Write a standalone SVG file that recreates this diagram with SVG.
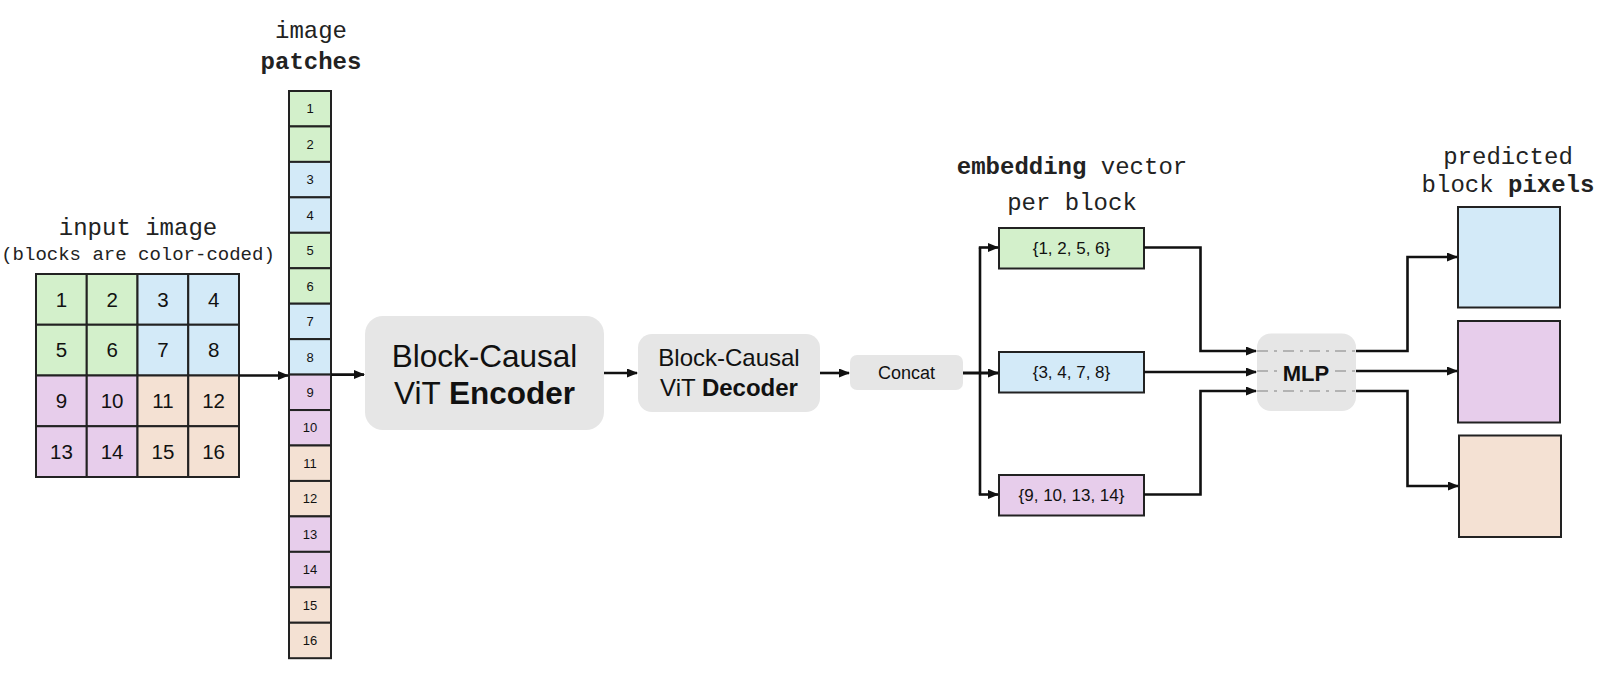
<svg xmlns="http://www.w3.org/2000/svg" width="1613" height="680" viewBox="0 0 1613 680">
<defs>
<marker id="ah" markerUnits="userSpaceOnUse" markerWidth="11" markerHeight="10" refX="10" refY="4.5" orient="auto">
<path d="M0,0 L11,4.5 L0,9 z" fill="#111"/>
</marker>
<style>
.g{fill:#d3f0cb}.b{fill:#d3eaf8}.p{fill:#e7cdeb}.o{fill:#f4e1d3}
.cell{stroke:#222;stroke-width:2}
.num{font-family:"Liberation Sans",Arial,sans-serif;font-size:20.5px;fill:#111;text-anchor:middle}
.pn{font-family:"Liberation Sans",Arial,sans-serif;font-size:13px;fill:#111;text-anchor:middle}
.mono{font-family:"Liberation Mono","Courier New",monospace;font-size:24px;fill:#222;text-anchor:middle}
.sans{font-family:"Liberation Sans",Arial,sans-serif;fill:#111;text-anchor:middle}
.box{fill:#e6e6e6}
.conn{fill:none;stroke:#111;stroke-width:2.6}
.dd{stroke:#b3b3b3;stroke-width:2;stroke-dasharray:11 6 3 6;fill:none}
</style>
</defs>

<g id="input-image">
<text class="mono" x="138" y="235">input image</text>
<text class="mono" x="138" y="260" style="font-size:19px">(blocks are color-coded)</text>
<rect class="cell g" x="36" y="274" width="50.75" height="50.75"/>
<rect class="cell g" x="86.75" y="274" width="50.75" height="50.75"/>
<rect class="cell b" x="137.5" y="274" width="50.75" height="50.75"/>
<rect class="cell b" x="188.25" y="274" width="50.75" height="50.75"/>
<rect class="cell g" x="36" y="324.75" width="50.75" height="50.75"/>
<rect class="cell g" x="86.75" y="324.75" width="50.75" height="50.75"/>
<rect class="cell b" x="137.5" y="324.75" width="50.75" height="50.75"/>
<rect class="cell b" x="188.25" y="324.75" width="50.75" height="50.75"/>
<rect class="cell p" x="36" y="375.5" width="50.75" height="50.75"/>
<rect class="cell p" x="86.75" y="375.5" width="50.75" height="50.75"/>
<rect class="cell o" x="137.5" y="375.5" width="50.75" height="50.75"/>
<rect class="cell o" x="188.25" y="375.5" width="50.75" height="50.75"/>
<rect class="cell p" x="36" y="426.25" width="50.75" height="50.75"/>
<rect class="cell p" x="86.75" y="426.25" width="50.75" height="50.75"/>
<rect class="cell o" x="137.5" y="426.25" width="50.75" height="50.75"/>
<rect class="cell o" x="188.25" y="426.25" width="50.75" height="50.75"/>
<text class="num" x="61.4" y="306.5">1</text>
<text class="num" x="112.1" y="306.5">2</text>
<text class="num" x="162.9" y="306.5">3</text>
<text class="num" x="213.6" y="306.5">4</text>
<text class="num" x="61.4" y="357.2">5</text>
<text class="num" x="112.1" y="357.2">6</text>
<text class="num" x="162.9" y="357.2">7</text>
<text class="num" x="213.6" y="357.2">8</text>
<text class="num" x="61.4" y="408">9</text>
<text class="num" x="112.1" y="408">10</text>
<text class="num" x="162.9" y="408">11</text>
<text class="num" x="213.6" y="408">12</text>
<text class="num" x="61.4" y="458.7">13</text>
<text class="num" x="112.1" y="458.7">14</text>
<text class="num" x="162.9" y="458.7">15</text>
<text class="num" x="213.6" y="458.7">16</text>
</g>

<g id="image-patches">
<text class="mono" x="311" y="38">image</text>
<text class="mono" x="311" y="69" font-weight="bold">patches</text>
<rect class="cell g" x="289" y="91" width="42" height="35.45"/>
<rect class="cell g" x="289" y="126.45" width="42" height="35.45"/>
<rect class="cell b" x="289" y="161.9" width="42" height="35.45"/>
<rect class="cell b" x="289" y="197.35" width="42" height="35.45"/>
<rect class="cell g" x="289" y="232.8" width="42" height="35.45"/>
<rect class="cell g" x="289" y="268.25" width="42" height="35.45"/>
<rect class="cell b" x="289" y="303.7" width="42" height="35.45"/>
<rect class="cell b" x="289" y="339.15" width="42" height="35.45"/>
<rect class="cell p" x="289" y="374.6" width="42" height="35.45"/>
<rect class="cell p" x="289" y="410.05" width="42" height="35.45"/>
<rect class="cell o" x="289" y="445.5" width="42" height="35.45"/>
<rect class="cell o" x="289" y="480.95" width="42" height="35.45"/>
<rect class="cell p" x="289" y="516.4" width="42" height="35.45"/>
<rect class="cell p" x="289" y="551.85" width="42" height="35.45"/>
<rect class="cell o" x="289" y="587.3" width="42" height="35.45"/>
<rect class="cell o" x="289" y="622.75" width="42" height="35.45"/>
<text class="pn" x="310" y="113.4">1</text>
<text class="pn" x="310" y="148.8">2</text>
<text class="pn" x="310" y="184.3">3</text>
<text class="pn" x="310" y="219.7">4</text>
<text class="pn" x="310" y="255.2">5</text>
<text class="pn" x="310" y="290.6">6</text>
<text class="pn" x="310" y="326.1">7</text>
<text class="pn" x="310" y="361.5">8</text>
<text class="pn" x="310" y="397">9</text>
<text class="pn" x="310" y="432.4">10</text>
<text class="pn" x="310" y="467.9">11</text>
<text class="pn" x="310" y="503.3">12</text>
<text class="pn" x="310" y="538.8">13</text>
<text class="pn" x="310" y="574.2">14</text>
<text class="pn" x="310" y="609.7">15</text>
<text class="pn" x="310" y="645.1">16</text>
</g>

<g id="encoder">
<rect class="box" x="365" y="316" width="239" height="114" rx="18"/>
<text class="sans" x="484.5" y="367" font-size="31.5">Block-Causal</text>
<text class="sans" x="484.5" y="404" font-size="31.5">ViT <tspan font-weight="bold">Encoder</tspan></text>
</g>

<g id="decoder">
<rect class="box" x="638" y="334" width="182" height="78" rx="14"/>
<text class="sans" x="729" y="366" font-size="24">Block-Causal</text>
<text class="sans" x="729" y="396" font-size="24">ViT <tspan font-weight="bold">Decoder</tspan></text>
</g>

<g id="concat">
<rect class="box" x="850" y="355" width="113" height="35" rx="7"/>
<text class="sans" x="906.5" y="379" font-size="18">Concat</text>
</g>

<g id="embedding-label">
<text class="mono" x="1072" y="173.5"><tspan font-weight="bold">embedding</tspan> vector</text>
<text class="mono" x="1072" y="210">per block</text>
</g>

<g id="emb-green">
<rect class="cell g" x="999" y="228" width="145" height="40.5"/>
<text class="sans" x="1071.5" y="254" font-size="17">{1, 2, 5, 6}</text>
</g>
<g id="emb-blue">
<rect class="cell b" x="999" y="352" width="145" height="40.5"/>
<text class="sans" x="1071.5" y="378" font-size="17">{3, 4, 7, 8}</text>
</g>
<g id="emb-purple">
<rect class="cell p" x="999" y="475" width="145" height="40.5"/>
<text class="sans" x="1071.5" y="501" font-size="17">{9, 10, 13, 14}</text>
</g>

<g id="mlp">
<rect class="box" x="1257" y="333.5" width="99" height="77.5" rx="14"/>
<path class="dd" d="M1257,351 H1356 M1257,371 H1356 M1257,391 H1356"/>
<rect x="1281" y="358" width="50" height="26" fill="#e6e6e6"/>
<text class="sans" x="1306" y="381" font-size="22" font-weight="bold">MLP</text>
</g>

<g id="predicted-label">
<text class="mono" x="1508" y="163.5">predicted</text>
<text class="mono" x="1508" y="192">block <tspan font-weight="bold">pixels</tspan></text>
</g>
<g id="pred-blue"><rect class="cell b" x="1458" y="207" width="102" height="100.5"/></g>
<g id="pred-purple"><rect class="cell p" x="1458" y="321" width="102" height="101.5"/></g>
<g id="pred-peach"><rect class="cell o" x="1459" y="435.5" width="102" height="101.5"/></g>

<g id="connectors">
<path class="conn" d="M239,375.5 H288" marker-end="url(#ah)"/>
<path class="conn" d="M331,374.6 H364" marker-end="url(#ah)"/>
<path class="conn" d="M604,373 H637" marker-end="url(#ah)"/>
<path class="conn" d="M820,373 H849" marker-end="url(#ah)"/>
<path class="conn" d="M963,373 H998" marker-end="url(#ah)" style="stroke-width:3.2"/>
<path class="conn" d="M980,247.5 V494.5"/>
<path class="conn" d="M978.8,247.5 H998" marker-end="url(#ah)"/>
<path class="conn" d="M978.8,494.5 H998" marker-end="url(#ah)"/>
<path class="conn" d="M1144,247.5 H1200.5 V351 H1256" marker-end="url(#ah)"/>
<path class="conn" d="M1144,372 H1256" marker-end="url(#ah)"/>
<path class="conn" d="M1144,494.5 H1200.5 V391 H1256" marker-end="url(#ah)"/>
<path class="conn" d="M1356,351 H1407.5 V257 H1457" marker-end="url(#ah)"/>
<path class="conn" d="M1356,371 H1457" marker-end="url(#ah)"/>
<path class="conn" d="M1356,391 H1407.5 V486 H1458" marker-end="url(#ah)"/>
</g>
</svg>
